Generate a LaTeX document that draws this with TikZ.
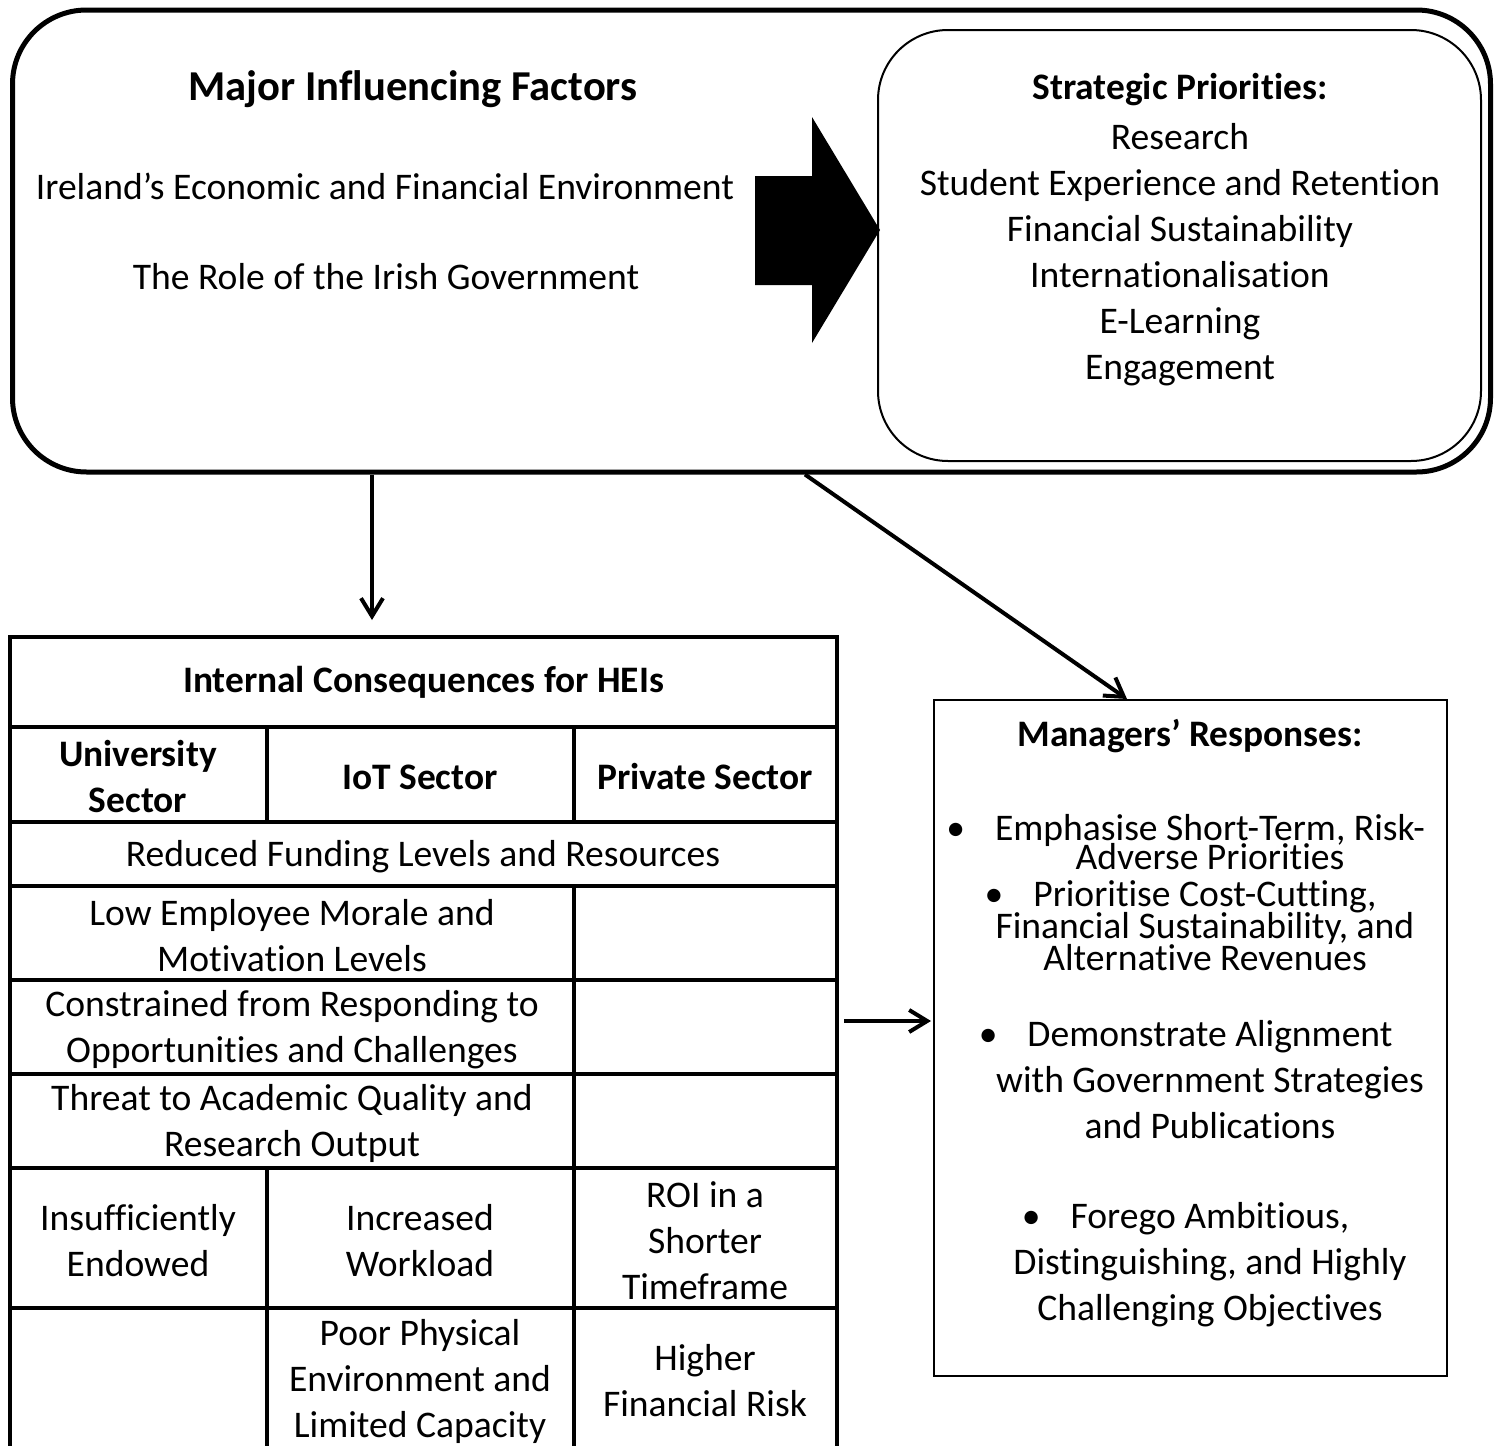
\documentclass[tikz,border=0pt]{standalone}
\usepackage{fontspec}
\setmainfont{Carlito}[Ligatures={NoCommon}]
\usetikzlibrary{arrows.meta}
\newcommand{\bul}{\llap{\textbullet\hspace{15pt}}}

\begin{document}
\begin{tikzpicture}[x=0.5pt,y=-0.5pt,
  txt/.style={font=\fontsize{18.8}{23}\selectfont,align=center,inner sep=0pt},
  hd/.style={font=\fontsize{18.7}{23}\selectfont\bfseries,align=center,inner sep=0pt},
  grid/.style={line width=2pt},
  conn/.style={line width=2pt,-{Straight Barb[length=9pt,width=11pt,line width=2pt]}}]
\useasboundingbox (0,0) rectangle (1496,1446);
% top block
\node[draw,line width=2.5pt,rounded corners=37pt,minimum width=739pt,minimum height=231pt] (factors) at (751.5,241) {};
\node[draw,line width=1pt,rounded corners=35pt,minimum width=301.5pt,minimum height=215.5pt] (prio) at (1179.5,245.5) {};
\fill (755,176) -- (812,176) -- (812,117) -- (880,230) -- (812,343) -- (812,285) -- (755,285) -- cycle;
\node[hd,font=\fontsize{21.3}{26}\selectfont\bfseries] (ftitle) at (413,89) {Major Influencing Factors};
\node[txt] (econ) at (385,186) {Ireland’s Economic and Financial Environment};
\node[txt] (gov) at (386,277) {The Role of the Irish Government};
\node[hd] (ptitle) at (1180,90) {Strategic Priorities:};
\node[txt] (plist) at (1180,255) {Research\\Student Experience and Retention\\Financial Sustainability\\Internationalisation\\E-Learning\\Engagement};
% table
\node[draw,grid,minimum width=413.5pt,minimum height=45pt,hd] (cons) at (423.5,682) {Internal Consequences for HEIs};
\draw[grid] (10,727) -- (10,1460) (837,727) -- (837,1460);
\foreach \y in {822,886,980,1074,1168,1308}
  \draw[grid] (10,\y) -- (837,\y);
\draw[grid] (267,727) -- (267,822) (574,727) -- (574,822);
\draw[grid] (267,1168) -- (267,1460) (574,886) -- (574,1460);
\node[hd] (univ) at (138,777) {University\\Sector};
\node[hd] (iot) at (420,777) {IoT Sector};
\node[hd] (priv) at (705,777) {Private Sector};
\node[txt] (fund) at (423,857) {Reduced Funding Levels and Resources};
\node[txt] (morale) at (292,936) {Low Employee Morale and\\Motivation Levels};
\node[txt] (constr) at (292,1030) {Constrained from Responding to\\Opportunities and Challenges};
\node[txt] (threat) at (292,1123) {Threat to Academic Quality and\\Research Output};
\node[txt] (endow) at (138,1241) {Insufficiently\\Endowed};
\node[txt] (work) at (420,1241) {Increased\\Workload};
\node[txt] (roi) at (705,1241) {ROI in a\\Shorter\\Timeframe};
\node[txt] (phys) at (420,1381) {Poor Physical\\Environment and\\Limited Capacity};
\node[txt] (risk) at (705,1381) {Higher\\Financial Risk};
% responses
\node[draw,line width=1pt,minimum width=256.5pt,minimum height=338pt] (resp) at (1190.5,1038) {};
\node[hd] (rtitle) at (1190,736) {Managers’ Responses:};
\node[txt,font={\fontsize{18.8}{14.5}\selectfont\lineskiplimit=-20pt}] (b1) at (1210,842) {\bul Emphasise Short-Term, Risk-\\Adverse Priorities};
\node[txt,font={\fontsize{18.8}{16}\selectfont\lineskiplimit=-20pt}] (b2) at (1205,926) {\bul Prioritise Cost-Cutting,\\Financial Sustainability, and\\Alternative Revenues};
\node[txt] (b3) at (1210,1080) {\bul Demonstrate Alignment\\with Government Strategies\\and Publications};
\node[txt] (b4) at (1210,1265) {\bul Forego Ambitious,\\Distinguishing, and Highly\\Challenging Objectives};
% connectors
\coordinate (dn) at (372,0);
\coordinate (dgA) at (805,0);
\coordinate (dgB) at (1127,0);
\coordinate (sd) at (0,1021);
\draw[conn,shorten >=7.5pt] (factors.south -| dn) -- (cons.north -| dn);
\draw[conn] (factors.south -| dgA) -- (resp.north -| dgB);
\draw[conn,shorten <=2.5pt,shorten >=1pt] (cons.east |- sd) -- (resp.west |- sd);
\end{tikzpicture}
\end{document}
